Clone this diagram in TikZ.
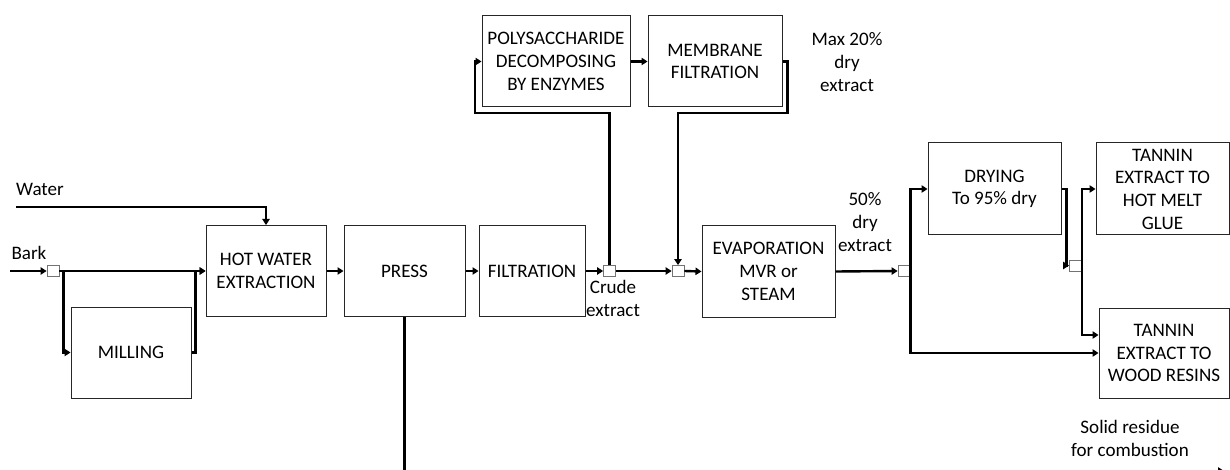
\documentclass[tikz,border=0pt]{standalone}
\usepackage{fontspec}
\setmainfont{Carlito}
\usepackage{tikz}
\usetikzlibrary{arrows.meta,positioning}

\begin{document}
\begin{tikzpicture}[x=0.75pt, y=-0.75pt,
  every node/.style={font=\fontsize{14.3}{17}\selectfont},
  box/.style={draw=black!85, line width=0.75pt, align=center, minimum height=68.25pt, inner sep=0pt},
  junc/.style={draw=black!55, fill=white, line width=0.6pt, minimum width=9pt, minimum height=8.25pt, inner sep=0pt},
  flow/.style={line width=1.8pt, -{Triangle[length=4.5pt,width=5.5pt]}},
  lbl/.style={align=center, inner sep=0pt}]
  \clip (0,0) rectangle (1230,470);

  % 工艺单元
  \node[box, minimum width=90pt] (milling) at (131,352.5) {MILLING};
  \node[box, minimum width=90pt] (hotwater) at (266,271) {HOT WATER\\EXTRACTION};
  \node[box, minimum width=90.75pt] (press) at (404.5,271) {PRESS};
  \node[box, minimum width=79.5pt] (filtration) at (532,271) {FILTRATION};
  \node[box, minimum width=111pt] (poly) at (556,61.5) {POLYSACCHARIDE\\DECOMPOSING\\BY ENZYMES};
  \node[box, minimum width=100.5pt] (membrane) at (715,61.5) {MEMBRANE\\FILTRATION};
  \node[box, minimum width=99.75pt] (evap) at (768.5,271.5) {EVAPORATION\\MVR or\\STEAM};
  \node[box, minimum width=99.75pt, minimum height=69pt] (drying) at (994.5,189) {DRYING\\To 95\% dry};
  \node[box, minimum width=99.75pt, minimum height=69pt] (hotmelt) at (1162.5,189) {TANNIN\\EXTRACT TO\\HOT MELT\\GLUE};
  \node[box, minimum width=97.5pt, minimum height=67.5pt] (wood) at (1164,353) {TANNIN\\EXTRACT TO\\WOOD RESINS};

  % 分流点
  \node[junc] (jbark) at (53,271) {};
  \node[junc] (jcrude) at (609.5,271) {};
  \node[junc] (jmix) at (678,271) {};
  \node[junc] (jdry) at (904,271) {};
  \node[junc] (jsplit) at (1075.5,265.5) {};

  % 文字
  \node[lbl] (water) at (40,189) {Water};
  \node[lbl] (bark) at (29,253) {Bark};
  \node[lbl] (crude) at (613,298.5) {Crude\\extract};
  \node[lbl] (maxdry) at (847,62) {Max 20\%\\dry\\extract};
  \node[lbl] (halfdry) at (865,222) {50\%\\dry\\extract};
  \node[lbl] (residue) at (1130,438.5) {Solid residue\\for combustion};

  % 进料
  \coordinate (waterin) at (16,207);
  \coordinate (barkin) at (10,271);
  \coordinate (residueout) at (1224,471);
  \coordinate (woodin) at ([yshift=13.5pt]wood.west);

  % 主流程
  \draw[flow] (waterin) -| (hotwater.north);
  \draw[flow] (barkin) -- (jbark.west);
  \draw[flow] (jbark.east) -- (hotwater.west);
  \draw[flow] ([xshift=3pt]jbark.east) |- (milling.west);
  \draw[flow] (milling.east) -- ++(4,0) |- (hotwater.west);
  \draw[flow] (hotwater.east) -- (press.west);
  \draw[flow] (press.east) -- (filtration.west);
  \draw[flow] (filtration.east) -- (jcrude.west);
  \draw[flow] (jcrude.east) -- (jmix.west);
  \draw[flow] (jmix.east) -- (evap.west);
  \draw[flow] (evap.east) -- (jdry.west);

  % 酶解与膜过滤支路
  \draw[flow] (jcrude.north) -- ++(0,-152) -- ++(-134.5,0) |- (poly.west);
  \draw[flow] (poly.east) -- (membrane.west);
  \draw[flow] (membrane.east) -- ++(5,0) -- ++(0,51.5) -| (jmix.north);

  % 干燥与产品
  \draw[flow] (jdry.east) |- (drying.west);
  \draw[flow] (jdry.east) |- (wood.west);
  \draw[flow] (drying.east) -- ++(5,0) |- (jsplit.west);
  \draw[flow] (jsplit.east) |- (hotmelt.west);
  \draw[flow] (jsplit.east) |- (woodin);

  % 固体残渣
  \draw[flow] (press.south) |- (residueout);
\end{tikzpicture}
\end{document}
